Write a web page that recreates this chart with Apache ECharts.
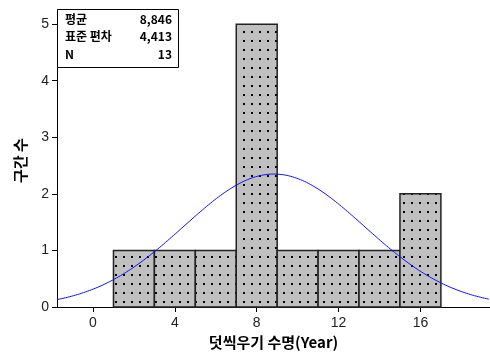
<!DOCTYPE html>
<html><head><meta charset="utf-8">
<script src="https://cdn.jsdelivr.net/npm/echarts@6/dist/echarts.min.js"></script>
<style>html,body{margin:0;padding:0;background:#fff}#c{width:490px;height:353px}</style>
</head><body><div id="c"></div>
<script>
const binStarts = [1, 3, 5, 7, 9, 11, 13, 15];
const binEnds   = [3, 5, 7, 9, 11, 13, 15, 17];
const counts    = [1, 1, 1, 5, 1, 1, 1, 2];
const xTicks = [0, 4, 8, 12, 16];
const yTicks = [0, 1, 2, 3, 4, 5];
const statLabels = ['평균', '표준 편차', 'N'];
const statValues = ['8,846', '4,413', '13'];
const mean = 8.846, sd = 4.413, nObs = 13, binWidth = 2;

const xMin = -1.76, xMax = 19.4, yMax = 5.18;

// pattern: gray with black dots
const pc = document.createElement('canvas');
pc.width = 8; pc.height = 9;
const pctx = pc.getContext('2d');
pctx.fillStyle = '#c0c0c0'; pctx.fillRect(0,0,8,9);
pctx.fillStyle = '#000'; pctx.fillRect(3,4,2,2);

const curve = [];
for (let x = xMin; x <= xMax + 1e-9; x += 0.1) {
  const y = nObs * binWidth / (sd * Math.sqrt(2*Math.PI)) * Math.exp(-0.5*Math.pow((x-mean)/sd,2));
  curve.push([x, y]);
}
const barData = binStarts.map((s,i)=>[s, binEnds[i], counts[i]]);

const chart = echarts.init(document.getElementById('c'), null, {renderer:'canvas'});
const fontLat = 'Arial, "Liberation Sans", sans-serif';
const fontKr = '"Noto Sans CJK KR", sans-serif';
chart.setOption({
  animation:false,
  grid:{left:57, right:0, top:14, bottom:46, containLabel:false, outerBoundsMode:'none'},
  xAxis:{type:'value', min:xMin, max:xMax,
    name:'덧씩우기 수명(Year)', nameLocation:'middle', nameGap:27,
    nameTextStyle:{fontFamily:fontKr, fontWeight:'bold', fontSize:15, color:'#000'},
    axisLine:{show:true, onZero:false, lineStyle:{color:'#000', width:1}},
    axisTick:{show:true, length:5, customValues:xTicks, lineStyle:{color:'#000'}},
    axisLabel:{customValues:xTicks, fontFamily:fontLat, fontSize:14, color:'#222', margin:9},
    splitLine:{show:false}},
  yAxis:{type:'value', min:0, max:yMax,
    name:'구간 수', nameLocation:'middle', nameGap:29, nameRotate:90,
    nameTextStyle:{fontFamily:fontKr, fontWeight:'bold', fontSize:15, color:'#000'},
    axisLine:{show:true, onZero:false, lineStyle:{color:'#000', width:1}},
    axisTick:{show:true, length:5, customValues:yTicks, lineStyle:{color:'#000'}},
    axisLabel:{customValues:yTicks, fontFamily:fontLat, fontSize:14, color:'#222', margin:8},
    splitLine:{show:false}},
  series:[
    {type:'custom', data:barData, encode:{x:[0,1], y:2},
     renderItem:function(params, api){
       const p1 = api.coord([api.value(0), api.value(2)]);
       const p2 = api.coord([api.value(1), 0]);
       return {type:'rect', shape:{x:p1[0], y:p1[1], width:p2[0]-p1[0], height:p2[1]-p1[1]},
         style:{fill:{image:pc, repeat:'repeat'}, stroke:'#222', lineWidth:1.5}};
     }},
    {type:'line', data:curve, showSymbol:false, smooth:false,
     lineStyle:{color:'#1010ff', width:1}, z:5}
  ],
  graphic:[
    {type:'rect', shape:{x:57.5, y:9.5, width:121, height:58}, style:{fill:'#fff', stroke:'#000', lineWidth:1}, z:10},
    ...statLabels.map((t,i)=>({type:'text', x:65, y:13+i*17.5, z:11,
      style:{text:t, font:'bold 12px "Noto Sans CJK KR", sans-serif', fill:'#000'}})),
    ...statValues.map((t,i)=>({type:'text', x:172, y:13+i*17.5, z:11,
      style:{text:t, font:'bold 12px "Noto Sans CJK KR", sans-serif', fill:'#000', align:'right'}}))
  ]
});
</script></body></html>
